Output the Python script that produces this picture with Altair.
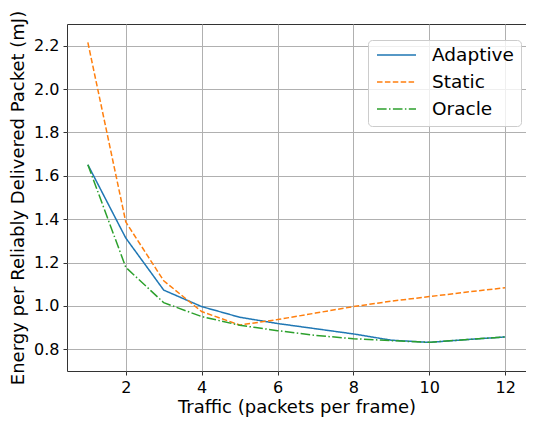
import altair as alt
import pandas as pd

traffic = [1, 2, 3, 4, 5, 6, 7, 8, 9, 10, 11, 12]
adaptive = [1.651, 1.313, 1.073, 0.997, 0.948, 0.919, 0.895, 0.871, 0.842, 0.832, 0.845, 0.857]
static = [2.215, 1.387, 1.116, 0.974, 0.912, 0.937, 0.967, 0.997, 1.022, 1.043, 1.064, 1.084]
oracle = [1.651, 1.178, 1.015, 0.951, 0.911, 0.886, 0.864, 0.849, 0.840, 0.832, 0.845, 0.857]

series = ["Adaptive", "Static", "Oracle"]
colors = ["#1f77b4", "#ff7f0e", "#2ca02c"]
dashes = [[1, 0], [5.5, 2.4], [9.6, 2.4, 1.5, 2.4]]

rows = []
for name, vals in zip(series, [adaptive, static, oracle]):
    for t, v in zip(traffic, vals):
        rows.append({"traffic": t, "energy": v, "series": name})
df = pd.DataFrame(rows)

FONT = "DejaVu Sans"

chart = alt.Chart(df).mark_line(strokeWidth=1.5).encode(
    x=alt.X("traffic:Q",
            scale=alt.Scale(domain=[0.45, 12.55], nice=False, zero=False),
            axis=alt.Axis(title="Traffic (packets per frame)", values=[2, 4, 6, 8, 10, 12],
                          format="d")),
    y=alt.Y("energy:Q",
            scale=alt.Scale(domain=[0.70, 2.30], nice=False, zero=False),
            axis=alt.Axis(title="Energy per Reliably Delivered Packet (mJ)",
                          values=[0.8, 1.0, 1.2, 1.4, 1.6, 1.8, 2.0, 2.2], format=".1f")),
    color=alt.Color("series:N", scale=alt.Scale(domain=series, range=colors),
                    sort=series, title=None),
    strokeDash=alt.StrokeDash("series:N", scale=alt.Scale(domain=series, range=dashes),
                              sort=series, title=None),
).properties(
    width=459, height=347,
    autosize=alt.AutoSizeParams(type="none"),
    padding={"left": 59, "top": 16, "right": 0, "bottom": 48},
).configure_view(
    stroke="#333333", strokeWidth=1
).configure_axis(
    grid=True, gridColor="#b0b0b0", gridWidth=1,
    domain=False,
    tickColor="#333333", tickSize=4, tickWidth=1,
    labelFont=FONT, labelFontSize=16, labelColor="#000000", labelPadding=4,
    titleFont=FONT, titleFontSize=18, titleFontWeight="normal", titleColor="#000000",
).configure_axisX(
    titlePadding=3
).configure_axisY(
    titlePadding=6
).configure_legend(
    orient="none", legendX=301, legendY=16,
    fillColor="rgba(255,255,255,0.8)", strokeColor="#cccccc", cornerRadius=4,
    padding=7, labelFont=FONT, labelFontSize=18.5, labelColor="#000000",
    symbolType="stroke", symbolSize=1521, symbolStrokeWidth=1.5, labelOffset=15,
    symbolOffset=1, rowPadding=8, clipHeight=16,
)

chart.save("out.html", embed_options={"renderer": "svg", "actions": False})
